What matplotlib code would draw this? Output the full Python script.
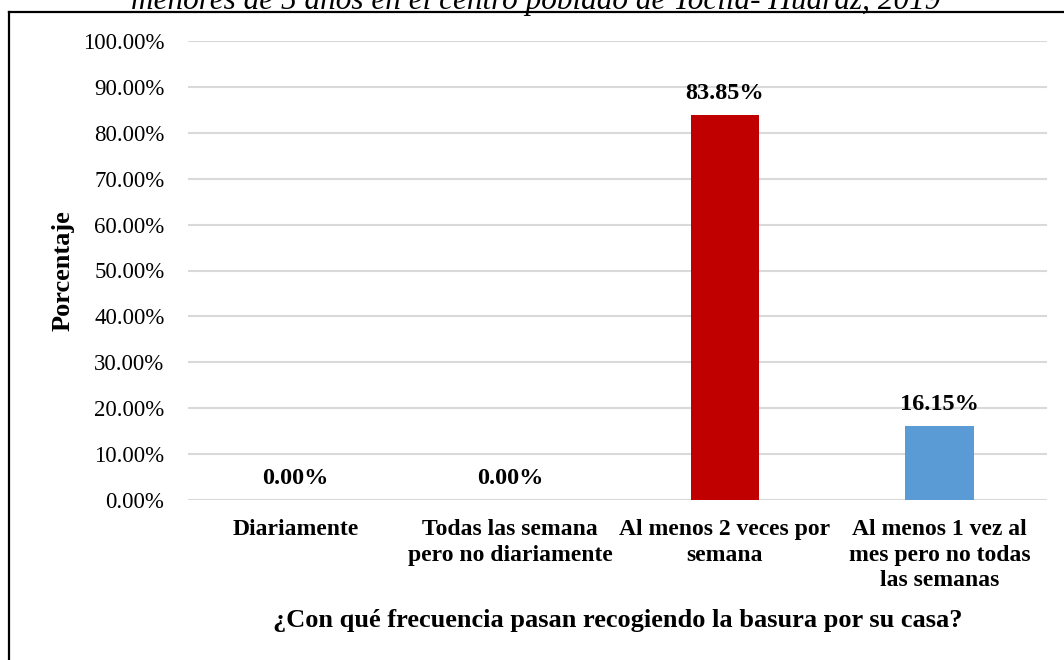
import matplotlib
matplotlib.use("Agg")
import matplotlib.pyplot as plt
from matplotlib.lines import Line2D
from matplotlib.ticker import FuncFormatter

plt.rcParams["font.family"] = ["Liberation Serif", "DejaVu Serif"]

categories = [
    "Diariamente",
    "Todas las semana\npero no diariamente",
    "Al menos 2 veces por\nsemana",
    "Al menos 1 vez al\nmes pero no todas\nlas semanas",
]
values = [0.0, 0.0, 83.85, 16.15]
colors = ["#c00000", "#c00000", "#c00000", "#5b9bd5"]
yticks = [0, 10, 20, 30, 40, 50, 60, 70, 80, 90, 100]

fig = plt.figure(figsize=(10.64, 6.6), dpi=100)
ax = fig.add_axes([188 / 1064, 1 - 500 / 660, (1047 - 188) / 1064, (500 - 41) / 660])

x = range(len(categories))
bars = ax.bar(x, values, width=0.32, color=colors, zorder=3)

for b, v in zip(bars, values):
    ax.annotate(f"{v:.2f}%", (b.get_x() + b.get_width() / 2, v),
                xytext=(0, 8), textcoords="offset points",
                ha="center", va="bottom", fontsize=17.5, fontweight="bold")

ax.set_ylim(0, 100)
ax.set_xlim(-0.5, len(categories) - 0.5)
ax.set_yticks(yticks)
ax.yaxis.set_major_formatter(FuncFormatter(lambda v, p: f"{v:.2f}%"))
ax.set_xticks(list(x))
ax.set_xticklabels(categories, fontsize=17, fontweight="bold", linespacing=1.27)
ax.tick_params(axis="y", labelsize=16.5, length=0, pad=17)
ax.tick_params(axis="x", length=0, pad=14)
ax.grid(axis="y", color="#d9d9d9", linewidth=1.5, zorder=0)
for s in ax.spines.values():
    s.set_visible(False)

ax.set_ylabel("Porcentaje", fontsize=19, fontweight="bold", labelpad=6)
fig.text((188 + 1047) / 2 / 1064, 1 - 620 / 660,
         "¿Con qué frecuencia pasan recogiendo la basura por su casa?",
         ha="center", va="center", fontsize=19, fontweight="bold")

# clipped caption above the chart frame
fig.text(536 / 1064, 1 - 9 / 660,
         "menores de 5 años en el centro poblado de Toclla- Huaraz, 2019",
         ha="center", va="baseline", fontsize=22.5, style="italic")

# chart frame (only top and left edges fall inside the picture)
fig.add_artist(Line2D([9 / 1064, 1.0], [1 - 12 / 660, 1 - 12 / 660],
                      transform=fig.transFigure, color="black", linewidth=1.6))
fig.add_artist(Line2D([9 / 1064, 9 / 1064], [0.0, 1 - 12 / 660],
                      transform=fig.transFigure, color="black", linewidth=1.6))

fig.savefig("out.png", dpi=100)
